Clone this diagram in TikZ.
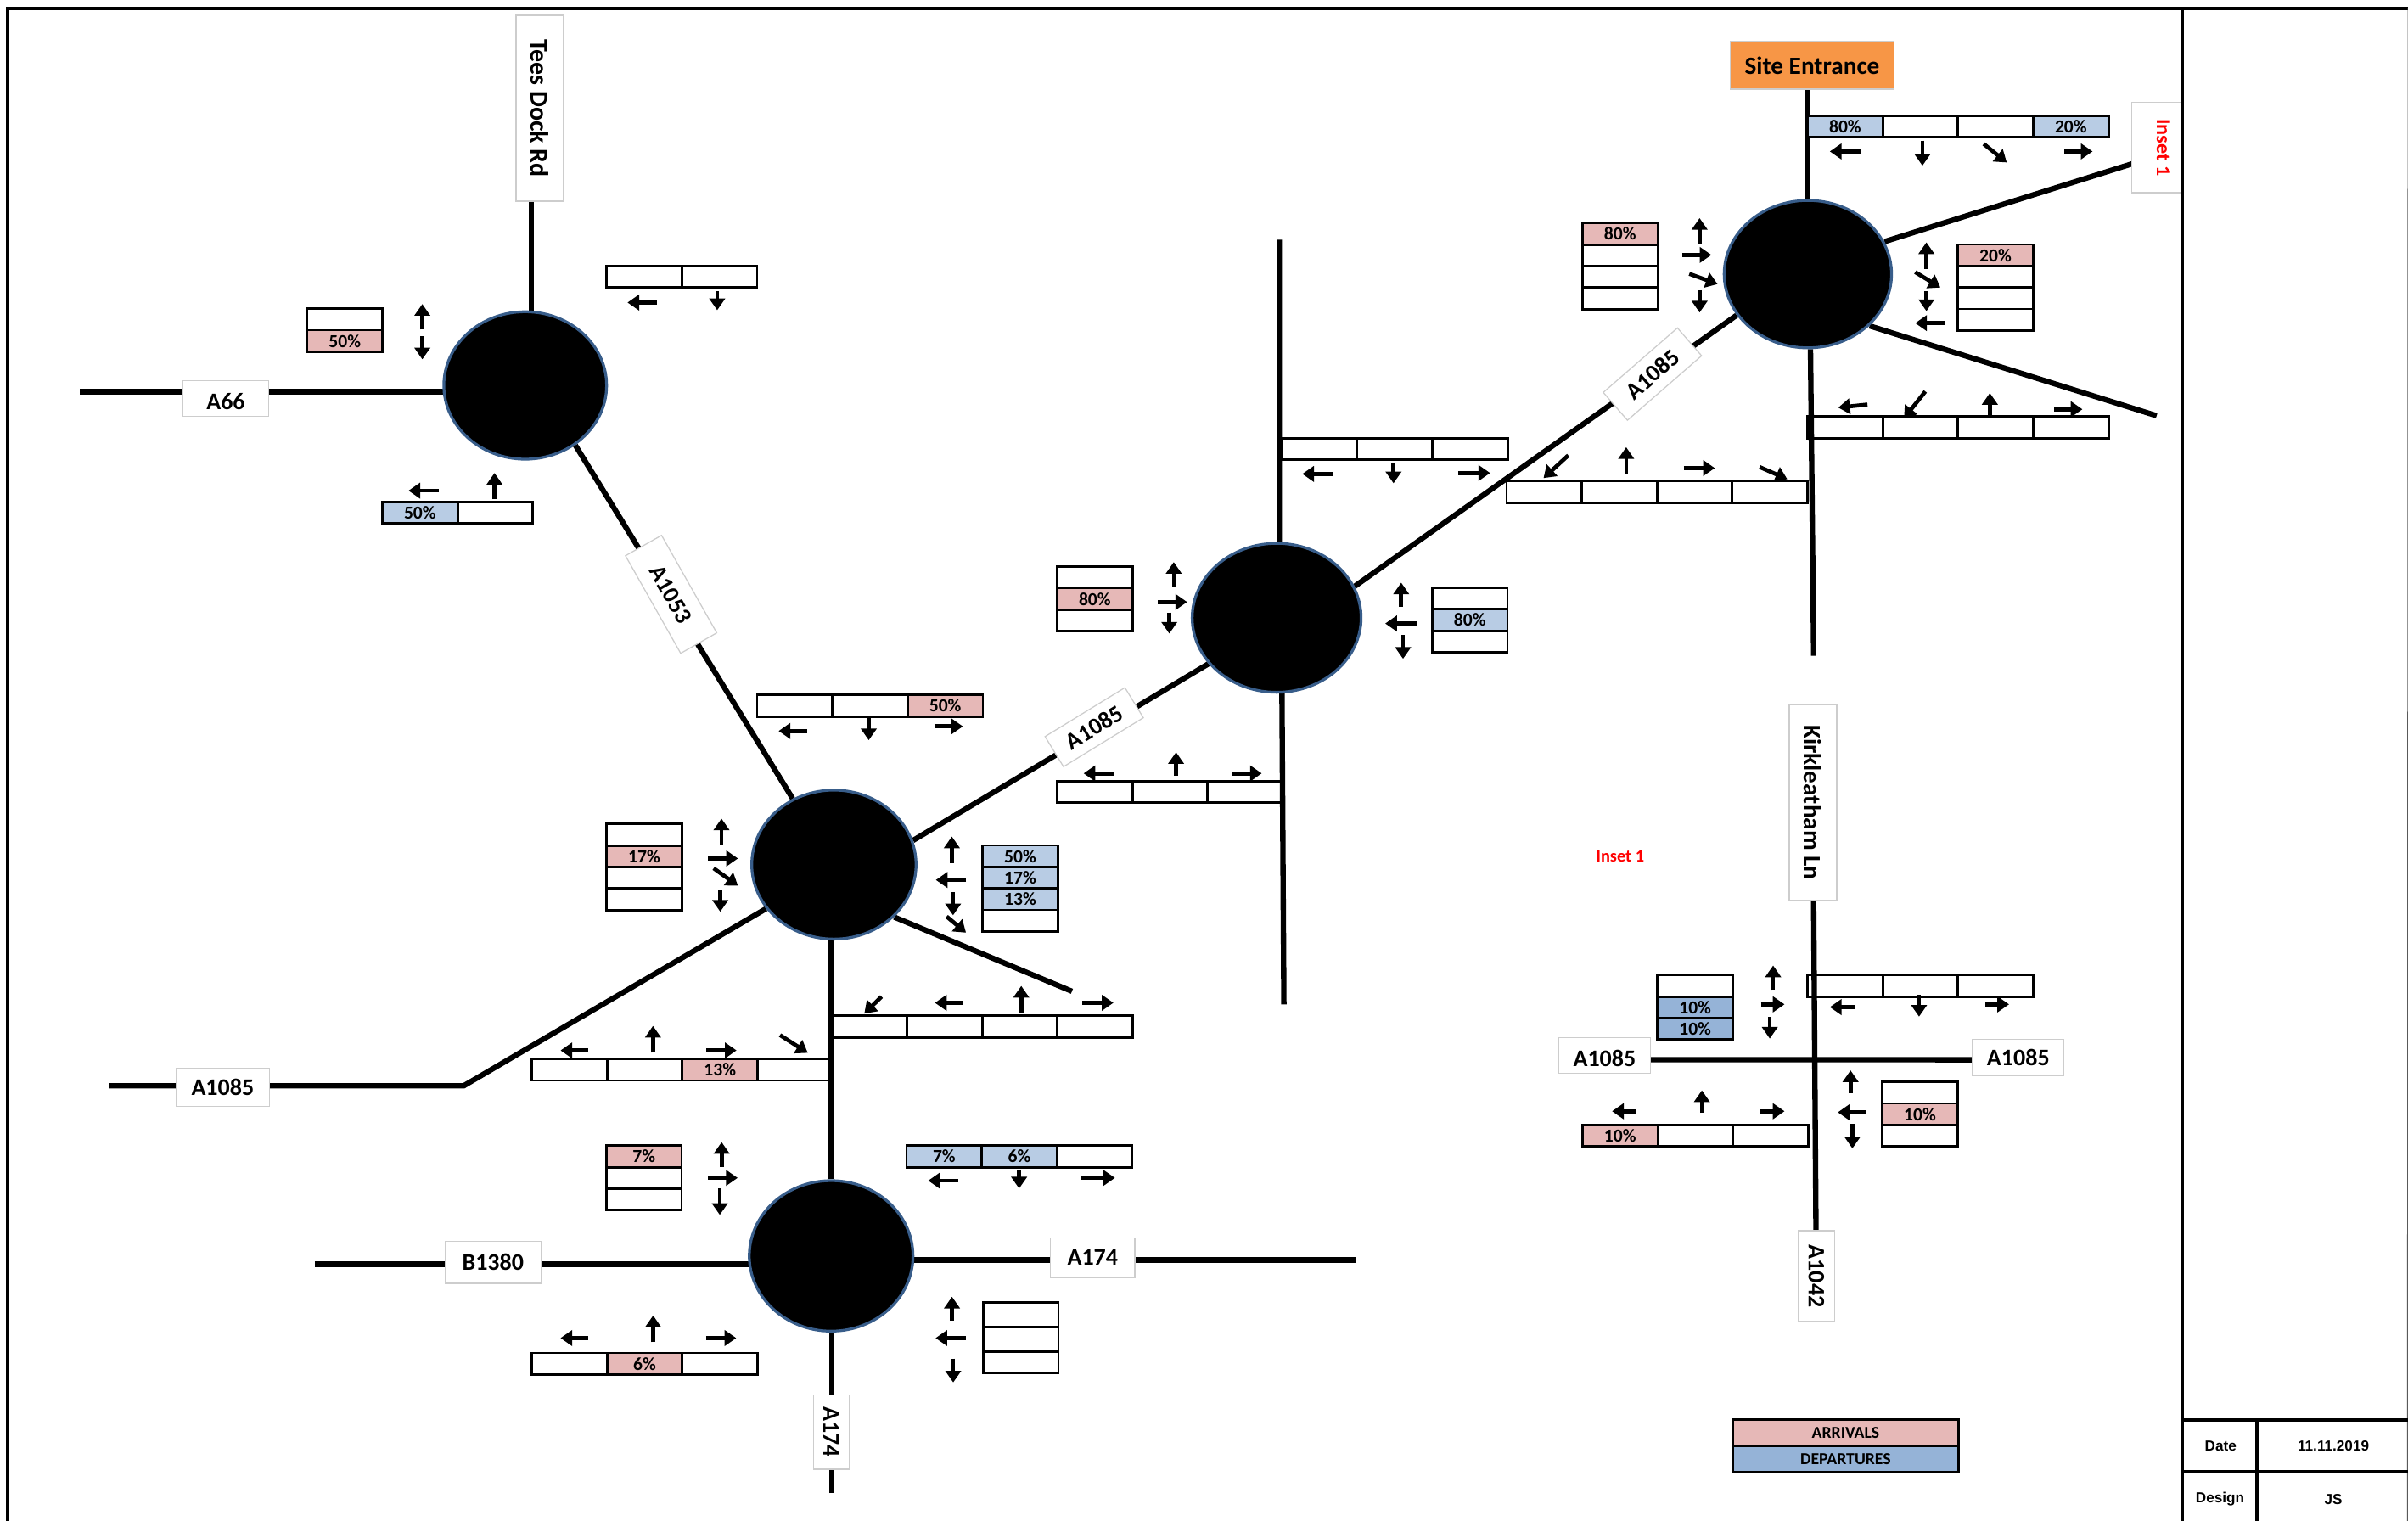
\documentclass[tikz,border=0pt]{standalone}
\usepackage{fontspec}
\setmainfont{Carlito}
\newfontfamily\blockfont{Liberation Sans}
\usetikzlibrary{arrows.meta,positioning,shapes.geometric}
\definecolor{rbtblue}{RGB}{56,93,138}
\definecolor{arrivalpink}{RGB}{230,184,183}
\definecolor{departblue}{RGB}{184,204,228}
\definecolor{departstrong}{RGB}{149,179,215}
\definecolor{siteorange}{RGB}{247,150,70}
\definecolor{labelgray}{RGB}{205,205,205}
\pgfdeclarelayer{roads}
\pgfsetlayers{roads,main}

\begin{document}
\begin{tikzpicture}[
    x=0.05cm, y=-0.05cm,
    node distance=0pt,
    rbt/.style={ellipse, fill=black, draw=rbtblue, line width=0.9mm, inner sep=0pt},
    road/.style={line width=1.75mm, black},
    frame/.style={line width=1mm, black},
    turn/.style={-{Triangle[length=3.8mm,width=5mm]}, line width=1.3mm},
    cell/.style={rectangle, draw=black, line width=0.8mm, inner sep=0pt, outer sep=0pt, minimum width=2.45cm, minimum height=0.7cm, font=\fontsize{17}{17}\selectfont\bfseries},
    cellarr/.style={cell, fill=arrivalpink},
    celldep/.style={cell, fill=departblue},
    cellstrong/.style={cell, fill=departstrong},
    roadlabel/.style={rectangle, draw=labelgray, fill=white, line width=0.35mm, inner sep=0pt, font=\fontsize{22}{22}\selectfont\bfseries},
    titletext/.style={inner sep=0pt, font=\fontsize{16}{16}\selectfont\bfseries},
    blocktext/.style={inner sep=0pt, font=\blockfont\fontsize{13.5}{13.5}\selectfont\bfseries}
  ]
    \useasboundingbox (0,0) rectangle (1568,990.4);

    \node[rbt, minimum width=5.3cm, minimum height=4.8cm] (rbtwest) at (342,251) {};
    \node[rbt, minimum width=5.35cm, minimum height=4.85cm] (rbtmid) at (543,563) {};
    \node[rbt, minimum width=5.5cm, minimum height=4.85cm] (rbteast) at (831.3,402.3) {};
    \node[rbt, minimum width=5.45cm, minimum height=4.8cm] (rbtsite) at (1177.2,178.5) {};
    \node[rbt, minimum width=5.33cm, minimum height=4.9cm] (rbtsouth) at (541.2,817.8) {};

    \node[roadlabel, rotate=-90, minimum width=6.05cm, minimum height=1.55cm, font=\fontsize{23.5}{23.5}\selectfont\bfseries] (lbltees) at (351.5,70.5) {Tees Dock Rd};
    \node[roadlabel, text height=20pt, text depth=0pt, minimum width=2.78cm, minimum height=1.15cm] (lbla66) at (147,259.5) {A66};
    \node[roadlabel, rotate=-60.5, minimum width=3.65cm, minimum height=1.35cm] (lbla1053) at (437,387) {A1053};
    \node[roadlabel, rotate=31.5, minimum width=3.05cm, minimum height=1.15cm] (lblmid) at (712.5,473.5) {A1085};
    \node[roadlabel, rotate=41, minimum width=3.2cm, minimum height=1.2cm] (lblupper) at (1076,243.6) {A1085};
    \node[roadlabel, minimum width=3.05cm, minimum height=1.25cm] (lblfar) at (145,708) {A1085};
    \node[roadlabel, minimum width=3.12cm, minimum height=1.37cm] (lblb1380) at (321,822) {B1380};
    \node[roadlabel, minimum width=2.75cm, minimum height=1.3cm] (lbla174e) at (711.5,819) {A174};
    \node[roadlabel, rotate=-90, minimum width=2.42cm, minimum height=1.16cm] (lbla174s) at (541.2,932.5) {A174};
    \node[roadlabel, fill=siteorange, minimum width=5.35cm, minimum height=1.55cm, font=\fontsize{23}{23}\selectfont\bfseries] (lblsite) at (1180,42.5) {Site Entrance};
    \node[roadlabel, rotate=-90, text=red, minimum width=2.95cm, minimum height=1.65cm, font=\fontsize{19}{19}\selectfont\bfseries] (lblinset) at (1404.5,96) {\raisebox{6pt}[\height][\depth]{Inset 1}\hspace{8pt}};
    \node[roadlabel, rotate=-90, minimum width=6.35cm, minimum height=1.55cm, font=\fontsize{23}{23}\selectfont\bfseries] (lblkirk) at (1180.5,522.5) {Kirkleatham Ln};
    \node[roadlabel, text height=20pt, text depth=0pt, minimum width=2.98cm, minimum height=1.15cm] (lbljunw) at (1044.8,687.2) {A1085};
    \node[roadlabel, minimum width=2.98cm, minimum height=1.2cm] (lbljune) at (1314.2,688.7) {A1085};
    \node[roadlabel, rotate=-90, minimum width=2.96cm, minimum height=1.2cm] (lbla1042) at (1182.7,831) {A1042};
    \node[titletext, text=red] (insetnote) at (1055,557.5) {Inset 1};

    \coordinate (teesend) at (346,125);
    \coordinate (a66end) at (52,255);
    \coordinate (farend) at (71,707);
    \coordinate (farbend) at (302,707);
    \coordinate (midlow) at (698,645.5);
    \coordinate (b1380end) at (205,823.2);
    \coordinate (a174eend) at (883,820.5);
    \coordinate (a174send) at (541.5,972.3);
    \coordinate (eastnorth) at (833,156);
    \coordinate (eastsouth) at (836,654);
    \coordinate (siteinset) at (1392,105.5);
    \coordinate (sitelow) at (1404.3,270.7);
    \coordinate (sitesouth) at (1181,427);

    \begin{pgfonlayer}{roads}
      \draw[road] (teesend) -- (teesend |- rbtwest);
      \draw[road] (a66end) -- (a66end -| rbtwest);
      \draw[road] (rbtwest.-50.6) -- (rbtmid.122);
      \draw[road] (rbtmid.17.5) -- (rbteast.214);
      \draw[road] (rbteast.22) -- (rbtsite.210);
      \draw[road] (rbtmid.213.7) -- (farbend) -- (farend);
      \draw[road] (rbtmid.-41) -- (midlow);
      \draw[road] (rbtsouth.north |- rbtmid) -- (rbtsouth);
      \draw[road] (b1380end) -- (b1380end -| rbtsouth);
      \draw[road] (a174eend) -- (a174eend -| rbtsouth);
      \draw[road] (a174send) -- (a174send |- rbtsouth);
      \draw[road] (eastnorth) -- (rbteast.88);
      \draw[road] (eastsouth) -- (rbteast.-86);
      \draw[road] (rbtsite.north) -- (rbtsite.north |- lblsite);
      \draw[road] (rbtsite.23.6) -- (siteinset);
      \draw[road] (rbtsite.-40) -- (sitelow);
      \draw[road] (rbtsite.-88) -- (sitesouth);
      \draw[road] (lblkirk.center) -- (lbla1042.center);
      \draw[road] ([yshift=-0.14cm]lbljunw.center) -- ([yshift=-0.07cm]lbljune.center);
    \end{pgfonlayer}

    \node[cell, anchor=north west] (wna) at (395,173) {}; \node[cell, right=of wna] (wnb) {};
    \node[cell, anchor=north west] (wwa) at (200,201) {}; \node[cellarr, below=of wwa] (wwb) {50\%};
    \node[celldep, anchor=north west] (wsa) at (249,326.8) {50\%}; \node[cell, right=of wsa] (wsb) {};

    \node[cell, anchor=north west] (mna) at (493,452.6) {}; \node[cell, right=of mna] (mnb) {}; \node[cellarr, right=of mnb] (mnc) {50\%};
    \node[cell, anchor=north west] (mwa) at (395,536.6) {}; \node[cellarr, below=of mwa] (mwb) {17\%}; \node[cell, below=of mwb] (mwc) {}; \node[cell, below=of mwc] (mwd) {};
    \node[celldep, anchor=north west] (mea) at (639.8,550.5) {50\%}; \node[celldep, below=of mea] (meb) {17\%}; \node[celldep, below=of meb] (mec) {13\%}; \node[cell, below=of mec] (med) {};
    \node[cell, anchor=north west] (msea) at (541.5,661.5) {}; \node[cell, right=of msea] (mseb) {}; \node[cell, right=of mseb] (msec) {}; \node[cell, right=of msec] (msed) {};
    \node[cell, anchor=north west] (mswa) at (346.3,689.6) {}; \node[cell, right=of mswa] (mswb) {}; \node[cellarr, right=of mswb] (mswc) {13\%}; \node[cell, right=of mswc] (mswd) {};

    \node[cellarr, anchor=north west] (swa) at (394.8,746) {7\%}; \node[cell, below=of swa] (swb) {}; \node[cell, below=of swb] (swc) {};
    \node[celldep, anchor=north west] (sna) at (590.3,746) {7\%}; \node[celldep, right=of sna] (snb) {6\%}; \node[cell, right=of snb] (snc) {};
    \node[cell, anchor=north west] (ssa) at (346.3,881) {}; \node[cellarr, right=of ssa] (ssb) {6\%}; \node[cell, right=of ssb] (ssc) {};
    \node[cell, anchor=north west, minimum height=0.8cm] (sea) at (640.2,848) {}; \node[cell, below=of sea, minimum height=0.8cm] (seb) {}; \node[cell, below=of seb] (sec) {};

    \node[cell, anchor=north west] (ena) at (834.7,285.4) {}; \node[cell, right=of ena] (enb) {}; \node[cell, right=of enb] (enc) {};
    \node[cell, anchor=north west] (ewa) at (688.4,369) {}; \node[cellarr, below=of ewa] (ewb) {80\%}; \node[cell, below=of ewb] (ewc) {};
    \node[cell, anchor=north west] (eea) at (932.6,382.8) {}; \node[celldep, below=of eea] (eeb) {80\%}; \node[cell, below=of eeb] (eec) {};
    \node[cell, anchor=north west] (esa) at (688.4,508.8) {}; \node[cell, right=of esa] (esb) {}; \node[cell, right=of esb] (esc) {};

    \node[celldep, anchor=north west] (tna) at (1177,75.2) {80\%}; \node[cell, right=of tna] (tnb) {}; \node[cell, right=of tnb] (tnc) {}; \node[celldep, right=of tnc] (tnd) {20\%};
    \node[cellarr, anchor=north west] (twa) at (1030.4,145.3) {80\%}; \node[cell, below=of twa] (twb) {}; \node[cell, below=of twb] (twc) {}; \node[cell, below=of twc] (twd) {};
    \node[cellarr, anchor=north west] (tea) at (1274.9,159.2) {20\%}; \node[cell, below=of tea] (teb) {}; \node[cell, below=of teb] (tec) {}; \node[cell, below=of tec] (ted) {};
    \node[cell, anchor=north west] (tsa) at (1177,271.3) {}; \node[cell, right=of tsa] (tsb) {}; \node[cell, right=of tsb] (tsc) {}; \node[cell, right=of tsc] (tsd) {};
    \node[cell, anchor=north west] (twsa) at (981,313.3) {}; \node[cell, right=of twsa] (twsb) {}; \node[cell, right=of twsb] (twsc) {}; \node[cell, right=of twsc] (twsd) {};

    \node[cell, anchor=north west] (jwa) at (1079.3,634.9) {}; \node[cellstrong, below=of jwa] (jwb) {10\%}; \node[cellstrong, below=of jwb] (jwc) {10\%};
    \node[cell, anchor=north west] (jna) at (1177,634.9) {}; \node[cell, right=of jna] (jnb) {}; \node[cell, right=of jnb] (jnc) {};
    \node[cellarr, anchor=north west] (jsa) at (1030.4,732.5) {10\%}; \node[cell, right=of jsa] (jsb) {}; \node[cell, right=of jsb] (jsc) {};
    \node[cell, anchor=north west] (jea) at (1225.7,704.5) {}; \node[cellarr, below=of jea] (jeb) {10\%}; \node[cell, below=of jeb] (jec) {};

    \node[cellarr, anchor=north west, minimum width=7.35cm, minimum height=0.85cm, font=\fontsize{15.5}{15.5}\selectfont\bfseries] (arrivals) at (1128.3,924.6) {ARRIVALS};
    \node[cellstrong, below=of arrivals, minimum width=7.35cm, minimum height=0.85cm, font=\fontsize{15.5}{15.5}\selectfont\bfseries] (departures) {DEPARTURES};

    \draw[turn] (427.6,197) -- ++(-19,0); \draw[turn] (467,189.5) -- ++(0,12.5);
    \draw[turn] (275,214.6) -- ++(0,-16.6); \draw[turn] (275,219) -- ++(0,15);
    \draw[turn] (285.5,319.5) -- ++(-19.5,0); \draw[turn] (322,325) -- ++(0,-17);

    \draw[turn] (525.6,476) -- ++(-18.6,0); \draw[turn] (565.7,467) -- ++(0,15); \draw[turn] (608.5,473) -- ++(18.5,0);
    \draw[turn] (469.8,549.8) -- ++(0,-16.8); \draw[turn] (461,559) -- ++(19.5,0); \draw[turn] (464.7,565.4) -- (480.5,576.7); \draw[turn] (469,579.8) -- ++(0,13.9);
    \draw[turn] (619.8,562) -- ++(0,-17.3); \draw[turn] (629,573) -- ++(-19.6,0); \draw[turn] (620.6,581) -- ++(0,15); \draw[turn] (616.4,596.8) -- (629,607.3);
    \draw[turn] (574,649) -- (562.8,660); \draw[turn] (626.9,653) -- ++(-18.1,0); \draw[turn] (665,660) -- ++(0,-18); \draw[turn] (704.7,653) -- ++(20.3,0);
    \draw[turn] (383,684) -- ++(-18,0); \draw[turn] (425.2,685.6) -- ++(0,-17.6); \draw[turn] (460,684) -- ++(19.6,0); \draw[turn] (507.9,674) -- (526,685.6);

    \draw[turn] (469.9,759.7) -- ++(0,-16); \draw[turn] (461.1,767) -- ++(19.2,0); \draw[turn] (468.7,773.9) -- ++(0,17.2);
    \draw[turn] (623.8,768.8) -- ++(-19.4,0); \draw[turn] (663.6,761.5) -- ++(0,12.4); \draw[turn] (704,767) -- ++(22,0);
    \draw[turn] (383,871.3) -- ++(-18,0); \draw[turn] (425.3,874) -- ++(0,-17.4); \draw[turn] (459.7,871.3) -- ++(19.7,0);
    \draw[turn] (619.9,859.8) -- ++(0,-15.4); \draw[turn] (628.9,871.3) -- ++(-19.7,0); \draw[turn] (620.7,884.6) -- ++(0,15.6);

    \draw[turn] (867.5,308.6) -- ++(-19.5,0); \draw[turn] (907.4,301.2) -- ++(0,13.5); \draw[turn] (949.4,308) -- ++(20.9,0);
    \draw[turn] (764.3,382.2) -- ++(0,-16.2); \draw[turn] (754,392) -- ++(19,0); \draw[turn] (761.4,398.8) -- ++(0,13.8);
    \draw[turn] (912.4,395) -- ++(0,-15.6); \draw[turn] (922.7,406) -- ++(-20.7,0); \draw[turn] (913.6,413.5) -- ++(0,15.5);
    \draw[turn] (724.9,503.6) -- ++(-19.3,0); \draw[turn] (765.8,505) -- ++(0,-15.2); \draw[turn] (801.8,503.6) -- ++(19.8,0);

    \draw[turn] (1211.6,98.6) -- ++(-20.1,0); \draw[turn] (1251.8,91.6) -- ++(0,16.3); \draw[turn] (1291.7,93.7) -- (1306.7,105.8); \draw[turn] (1344.3,98.6) -- ++(18.3,0);
    \draw[turn] (1106.7,158.6) -- ++(0,-16.6); \draw[turn] (1095.4,166) -- ++(19,0); \draw[turn] (1100,178.3) -- (1118.4,185); \draw[turn] (1106.7,188.9) -- ++(0,14.6);
    \draw[turn] (1254.4,175) -- ++(0,-17.2); \draw[turn] (1247.1,177.2) -- (1263.5,187.2); \draw[turn] (1254.4,189.3) -- ++(0,13.3); \draw[turn] (1266.1,210.4) -- ++(-19,0);
    \draw[turn] (1216,263.4) -- (1197,265.4); \draw[turn] (1253.7,254.9) -- (1239.8,272.4); \draw[turn] (1295.7,272.4) -- ++(0,-16.5); \draw[turn] (1337.7,266.5) -- ++(18.3,0);
    \draw[turn] (1021.2,296.5) -- (1005.1,311.3); \draw[turn] (1058.9,308.2) -- ++(0,-17); \draw[turn] (1096.5,304.8) -- ++(20.1,0); \draw[turn] (1145.8,304.1) -- (1163.8,312);

    \draw[turn] (1154.6,644.6) -- ++(0,-15.9); \draw[turn] (1146.6,654) -- ++(15.4,0); \draw[turn] (1152.4,662) -- ++(0,14.3);
    \draw[turn] (1207.6,655.8) -- ++(-16.1,0); \draw[turn] (1249.6,647.8) -- ++(0,14.2); \draw[turn] (1292.8,654) -- ++(15.4,0);
    \draw[turn] (1065,723.6) -- ++(-15.3,0); \draw[turn] (1108.2,724.6) -- ++(0,-14.6); \draw[turn] (1145.8,723.6) -- ++(16.2,0);
    \draw[turn] (1205,711.7) -- ++(0,-14.7); \draw[turn] (1215,724.3) -- ++(-18.3,0); \draw[turn] (1206.2,731.9) -- ++(0,15.9);

    \coordinate (framenw) at (5,5.5);
    \coordinate (framesw) at (5,991);
    \coordinate (framene) at (1568,5.5);
    \coordinate (framese) at (1567.6,991);
    \coordinate (splitn) at (1421,5.5);
    \coordinate (splits) at (1421,991);
    \draw[frame] (framesw) -- (framenw) -- (framene);
    \draw[frame] (splitn) -- (splits);
    \draw[line width=0.25mm, black!65] (framene) -- (framese);

    \coordinate (blockw) at (1421,924.6);
    \coordinate (blocke) at (1568,924.6);
    \coordinate (rowb) at (1421,958.5);
    \coordinate (rowe) at (1568,958.5);
    \coordinate (divn) at (1469.7,924.6);
    \coordinate (divs) at (1469.7,991);
    \draw[frame, line width=1.3mm] (blockw) -- (blocke);
    \draw[frame] (rowb) -- (rowe);
    \draw[frame] (divn) -- (divs);

    \node[blocktext] (datelabel) at (1446,941.4) {Date};
    \node[blocktext] (dateval) at (1519.4,941.4) {11.11.2019};
    \node[blocktext] (designlabel) at (1445.6,976.3) {Design};
    \node[blocktext] (designval) at (1519.4,976.3) {JS};
  \end{tikzpicture}
\end{document}
